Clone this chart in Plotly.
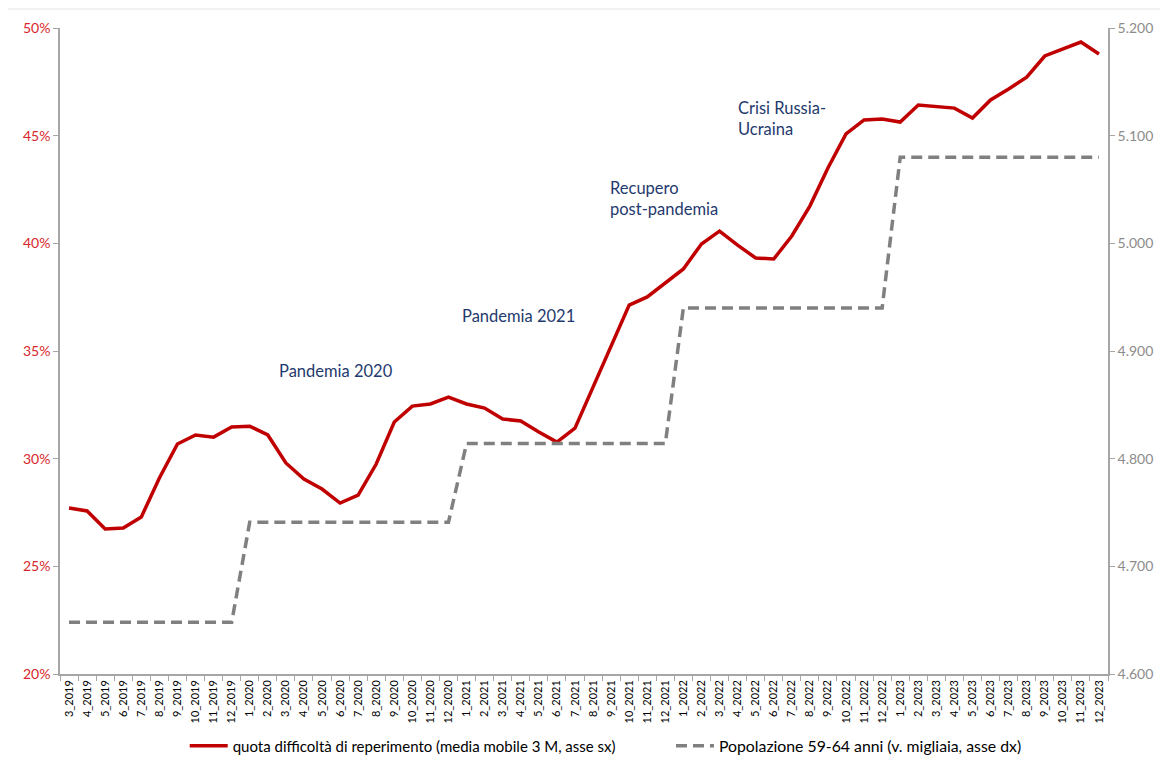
import plotly.graph_objects as go

months = [f"{m}_{y}" for y in range(2019, 2024) for m in range(1, 13)][2:]

quota = [27.71, 27.57, 26.73, 26.78, 27.29, 29.10, 30.68, 31.10, 31.00, 31.47,
         31.51, 31.10, 29.80, 29.05, 28.59, 27.94, 28.31, 29.75, 31.70, 32.44,
         32.54, 32.86, 32.54, 32.35, 31.84, 31.75, 31.24, 30.77, 31.42, 33.33,
         35.28, 37.13, 37.51, 38.16, 38.81, 39.97, 40.57, 39.92, 39.32, 39.27,
         40.34, 41.73, 43.50, 45.08, 45.73, 45.77, 45.63, 46.42, 46.33, 46.28,
         45.82, 46.66, 47.17, 47.72, 48.70, 49.02, 49.35, 48.79]
quota = [v / 100 for v in quota]

pop_by_year = {2019: 4648, 2020: 4741, 2021: 4814, 2022: 4940, 2023: 5080}
popolazione = [pop_by_year[int(m.split("_")[1])] for m in months]

notes = [
    ("Pandemia 2020", 14.8, 0.3408, "center", "center"),
    ("Pandemia 2021", 24.9, 0.3664, "center", "center"),
    ("Recupero<br>post-pandemia", 29.85, 0.4209, "left", "left"),
    ("Crisi Russia-<br>Ucraina", 36.9, 0.4582, "left", "left"),
]

FONT = "Lato, 'Open Sans', sans-serif"

fig = go.Figure()
fig.add_trace(go.Scatter(
    x=months, y=quota, mode="lines",
    name="quota difficoltà di reperimento (media mobile 3 M, asse sx)",
    line=dict(color="#c00000", width=3.5), yaxis="y", legend="legend"))
fig.add_trace(go.Scatter(
    x=months, y=popolazione, mode="lines",
    name="Popolazione 59-64 anni (v. migliaia, asse dx)",
    line=dict(color="#808080", width=3.5, dash="11px,6px"), yaxis="y2",
    legend="legend2"))

for text, x, y, xa, al in notes:
    fig.add_annotation(text=text, x=x, y=y, xref="x", yref="y",
                       xanchor=xa, yanchor="middle", align=al, showarrow=False,
                       font=dict(family=FONT, size=16.5, color="#1f3a6e"))

fig.add_shape(type="rect", xref="paper", yref="paper",
              x0=-0.1, x1=1.2, y0=-0.3, y1=1.0279,
              fillcolor="white", line=dict(width=0), layer="below")

leg_common = dict(orientation="h", yref="container", yanchor="middle", y=0.0302,
                  xanchor="left", bgcolor="rgba(0,0,0,0)", itemwidth=38)

fig.update_layout(
    width=1160, height=761,
    margin=dict(l=52, r=60, t=20, b=95, autoexpand=False),
    paper_bgcolor="#f2f2f2", plot_bgcolor="white",
    separators=",.",
    font=dict(family=FONT, size=13, color="#000000"),
    showlegend=True,
    legend=dict(x=0.119, font=dict(family=FONT, size=15, color="#000000"), **leg_common),
    legend2=dict(x=0.583, font=dict(family=FONT, size=15.8, color="#000000"), **leg_common),
    xaxis=dict(type="category", range=[-0.5, len(months) - 0.5], automargin=False,
               showgrid=False, zeroline=False, showline=True, linecolor="#a6a6a6",
               linewidth=1.5, ticks="outside", tickson="boundaries", ticklen=5,
               tickcolor="#a6a6a6", tickangle=-90,
               tickfont=dict(family=FONT, size=11, color="#000000")),
    yaxis=dict(range=[0.2, 0.5], dtick=0.05, tickformat=".0%", showgrid=False,
               automargin=False,
               zeroline=False, showline=True, linecolor="#a6a6a6", linewidth=1.5,
               ticks="outside", ticklen=5, tickcolor="#a6a6a6",
               tickfont=dict(family=FONT, size=14, color="#d9262c")),
    yaxis2=dict(range=[4600, 5200], dtick=100, tickformat=",d", overlaying="y",
                automargin=False,
                side="right", showgrid=False, zeroline=False, showline=True,
                linecolor="#a6a6a6", linewidth=1.5, ticks="outside", ticklen=5,
                tickcolor="#a6a6a6",
                tickfont=dict(family=FONT, size=14, color="#8c8c8c")),
)

fig.write_html("out.html")
